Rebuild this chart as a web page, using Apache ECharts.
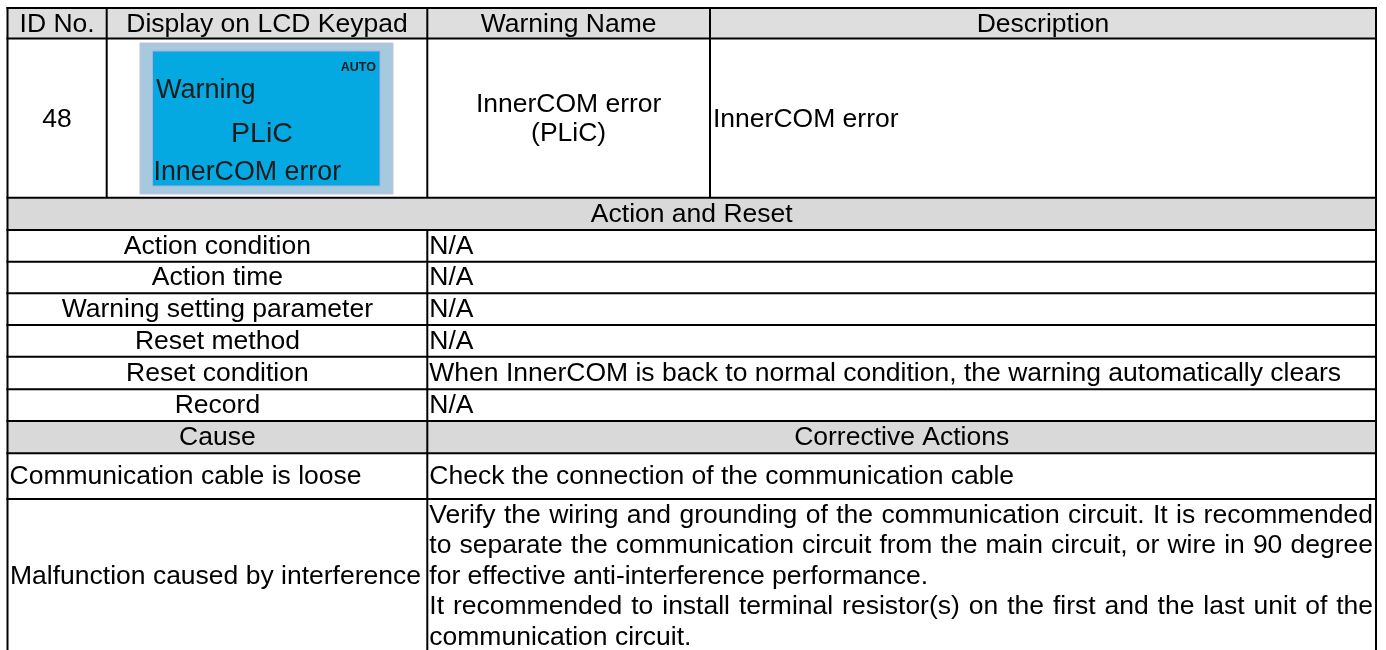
<!DOCTYPE html>
<html>
<head>
<meta charset="utf-8">
<script src="https://cdn.jsdelivr.net/npm/echarts@6/dist/echarts.min.js"></script>
<style>
html,body{margin:0;padding:0;background:#fff;}
#chart{width:1386px;height:650px;}
</style>
</head>
<body>
<div id="chart"></div>
<script>
// ---- data ----
const headers = ['ID No.', 'Display on LCD Keypad', 'Warning Name', 'Description'];
const warningId = '48';
const lcdMode = 'AUTO';
const lcdLines = ['Warning', 'PLiC', 'InnerCOM error'];
const warningName = ['InnerCOM error', '(PLiC)'];
const description = 'InnerCOM error';
const sectionTitle = 'Action and Reset';
const actionLabels = ['Action condition', 'Action time', 'Warning setting parameter', 'Reset method', 'Reset condition', 'Record'];
const actionValues = ['N/A', 'N/A', 'N/A', 'N/A', 'When InnerCOM is back to normal condition, the warning automatically clears', 'N/A'];
const causeHeaders = ['Cause', 'Corrective Actions'];
const causes = ['Communication cable is loose', 'Malfunction caused by interference'];
const corrective1 = ['Check the connection of the communication cable'];
const corrective2 = [
  'Verify the wiring and grounding of the communication circuit. It is recommended',
  'to separate the communication circuit from the main circuit, or wire in 90 degree',
  'for effective anti-interference performance.',
  'It recommended to install terminal resistor(s) on the first and the last unit of the',
  'communication circuit.'
];
const corrective2Justify = [true, true, false, true, false];

// ---- layout ----
const FONT = '"Liberation Sans", Arial, sans-serif';
const FS = 26.5;
const X0 = 7.5, XC1 = 106.7, XC2 = 427.3, XC3 = 710, X1 = 1376;
const rowY = [8, 38.5, 197.7, 230, 261.7, 293.3, 325, 356.7, 389.3, 421, 453.3, 499, 653];
const graySection = '#d9d9d9';
const grayHeader = '#dedede';

const els = [];
function rect(x, y, w, h, fill, stroke, lw) {
  els.push({type: 'rect', shape: {x, y, width: w, height: h}, style: {fill: fill || 'none', stroke: stroke || null, lineWidth: lw || 0}, silent: true});
}
function line(x1, y1, x2, y2) {
  els.push({type: 'line', shape: {x1, y1, x2, y2}, style: {stroke: '#000', lineWidth: 2}, silent: true});
}
function txt(s, x, y, align, size, weight, color) {
  els.push({type: 'text', x: x, y: y, style: {text: s, font: (weight || 'normal') + ' ' + (size || FS) + 'px ' + FONT, fill: color || '#000', align: align || 'center', verticalAlign: 'middle'}, silent: true});
}
const mctx = document.createElement('canvas').getContext('2d');
function measure(s, size) { mctx.font = (size || FS) + 'px ' + FONT; return mctx.measureText(s).width; }
function justified(s, x, y, width) {
  const words = s.split(' ');
  const total = words.reduce((a, w) => a + measure(w), 0);
  const gap = (width - total) / (words.length - 1);
  let cx = x;
  words.forEach(w => { txt(w, cx, y, 'left'); cx += measure(w) + gap; });
}

// gray backgrounds
rect(X0, rowY[0], X1 - X0, rowY[1] - rowY[0], grayHeader);
rect(X0, rowY[2], X1 - X0, rowY[3] - rowY[2], graySection);
rect(X0, rowY[9], X1 - X0, rowY[10] - rowY[9], graySection);

// header texts
const colsTop = [X0, XC1, XC2, XC3, X1];
const midHead = (rowY[0] + rowY[1]) / 2 + 1;
headers.forEach((h, i) => txt(h, (colsTop[i] + colsTop[i + 1]) / 2, midHead, 'center'));

// row 2
const mid2 = (rowY[1] + rowY[2]) / 2;
txt(warningId, (X0 + XC1) / 2, mid2 + 2, 'center');
// LCD picture
rect(140, 43, 253, 151, '#a6c9dd', '#c6bfe2', 1);
rect(152.5, 51, 227.5, 135, '#05a9e1', '#b7a9d9', 1);
txt(lcdMode, 376, 67.5, 'right', 12.5, 'bold', '#1b1b1b');
txt(lcdLines[0], 156, 91, 'left', 27, 'normal', '#1b1b1b');
txt(lcdLines[1], 262, 134, 'center', 28.5, 'normal', '#1b1b1b');
txt(lcdLines[2], 153.5, 172.5, 'left', 26.8, 'normal', '#1b1b1b');
// warning name
txt(warningName[0], (XC2 + XC3) / 2, mid2 - 13, 'center');
txt(warningName[1], (XC2 + XC3) / 2, mid2 + 16, 'center');
txt(description, XC3 + 3, mid2 + 2, 'left');

// action and reset
txt(sectionTitle, (X0 + X1) / 2, (rowY[2] + rowY[3]) / 2 + 0.5, 'center');
actionLabels.forEach((l, i) => {
  const cy = (rowY[3 + i] + rowY[4 + i]) / 2 + 0.5;
  txt(l, (X0 + XC2) / 2, cy, 'center');
  txt(actionValues[i], XC2 + 2, cy, 'left');
});

// cause header
const midC = (rowY[9] + rowY[10]) / 2 + 0.5;
txt(causeHeaders[0], (X0 + XC2) / 2, midC, 'center');
txt(causeHeaders[1], (XC2 + X1) / 2, midC, 'center');
// cause rows
const midR1 = (rowY[10] + rowY[11]) / 2 + 1;
txt(causes[0], X0 + 2, midR1, 'left');
txt(corrective1[0], XC2 + 2, midR1, 'left');
const lh = 30.5, firstY = rowY[11] + 16.3;
corrective2.forEach((l, i) => {
  const y = firstY + i * lh;
  if (corrective2Justify[i]) justified(l, XC2 + 2, y, X1 - 3 - (XC2 + 2));
  else txt(l, XC2 + 2, y, 'left');
});
txt(causes[1], X0 + 2.5, firstY + 2 * lh, 'left');

// grid lines
rowY.forEach((y, i) => { if (i < rowY.length - 1) line(X0 - 1, y, X1 + 1, y); });
line(X0, rowY[0] - 1, X0, 653);
line(X1, rowY[0] - 1, X1, 653);
line(XC1, rowY[0], XC1, rowY[2]);
line(XC3, rowY[0], XC3, rowY[2]);
line(XC2, rowY[0], XC2, rowY[2]);
line(XC2, rowY[3], XC2, 653);

const chart = echarts.init(document.getElementById('chart'), null, {renderer: 'canvas'});
chart.setOption({backgroundColor: '#fff', animation: false, graphic: {elements: els}});
</script>
</body>
</html>
